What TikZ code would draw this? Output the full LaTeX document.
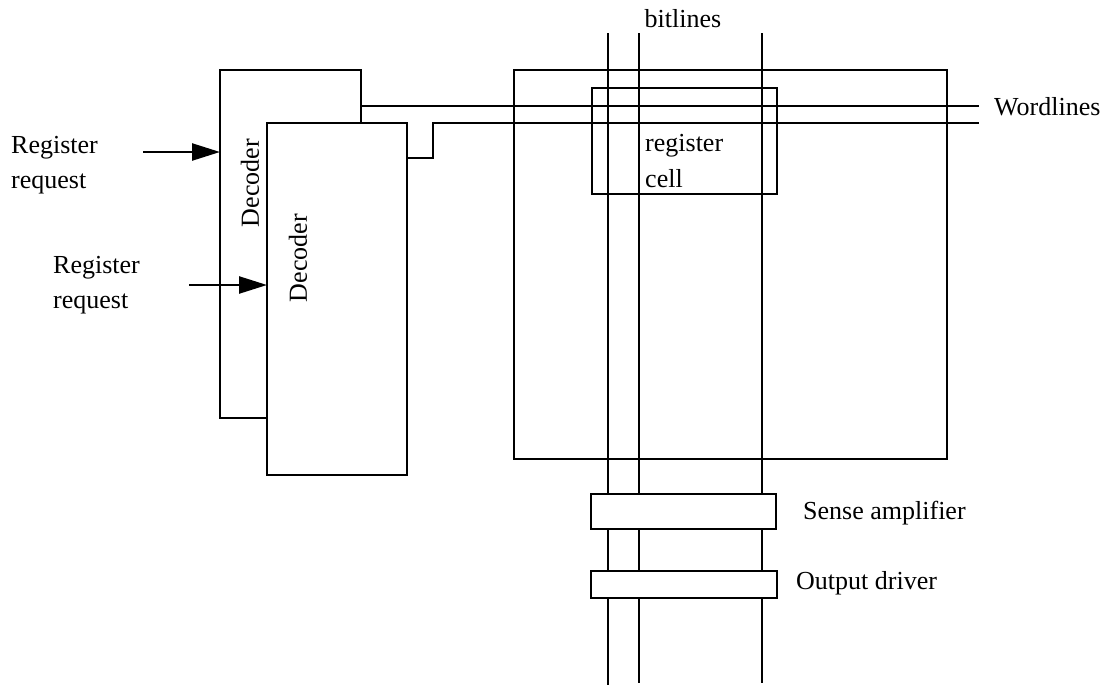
\documentclass[tikz,border=0pt]{standalone}
\usepackage{fontspec}
\setmainfont{Liberation Serif}
\usetikzlibrary{arrows.meta}
\begin{document}
\begin{tikzpicture}[x=1pt,y=-1pt,
  line width=2.4pt,
  box/.style={draw,fill=white,line width=2.4pt,inner sep=0pt,outer sep=0pt,anchor=north west},
  lbl/.style={font=\fontsize{26}{35}\selectfont,inner sep=0pt,align=left},
  arr/.style={-{Triangle[length=28pt,width=17pt]}}]
\useasboundingbox (0,0) rectangle (1109,691);
% decoders
\node[box,minimum width=141pt,minimum height=348pt] (dec1) at (220,70) {};
\coordinate (w1s) at (361,106);
\coordinate (w1e) at (979,106);
\draw (w1s) -- (w1e);
\node[box,minimum width=140pt,minimum height=352pt] (dec2) at (267,123) {};
\node[lbl,rotate=90] (dec1t) at (250,183) {Decoder};
\node[lbl,rotate=90] (dec2t) at (298,258) {Decoder};
\coordinate (w2s) at (407,158);
\coordinate (w2k) at (433,123);
\coordinate (w2e) at (979,123);
\draw (w2s) -| (w2k) -- (w2e);
% memory array
\node[box,fill=none,minimum width=433pt,minimum height=389pt] (mem) at (514,70) {};
\node[box,fill=none,minimum width=185pt,minimum height=106pt] (cell) at (592,88) {};
\node[lbl,anchor=north west] (cellt) at (644,133) {register\\[1pt]cell};
% bitlines
\coordinate (b1t) at (608,33); \coordinate (b1b) at (608,685);
\coordinate (b2t) at (639,33); \coordinate (b2b) at (639,683);
\coordinate (b3t) at (762,33); \coordinate (b3b) at (762,683);
\draw (b1t) -- (b1b);
\draw (b2t) -- (b2b);
\draw (b3t) -- (b3b);
\node[box,minimum width=185pt,minimum height=35pt] (sense) at (591,494) {};
\node[box,minimum width=186pt,minimum height=27pt] (outd) at (591,571) {};
% labels
\node[lbl] (bitl) at (683,19) {bitlines};
\node[lbl,anchor=west] (wordl) at (993,107) {Wordlines};
\node[lbl,anchor=west] (sensel) at (802,513) {Sense amplifier};
\node[lbl,anchor=west] (outl) at (795,583) {Output driver};
% register requests
\node[lbl,anchor=west] (rr1) at (10,165) {Register\\request};
\node[lbl,anchor=west] (rr2) at (52,285) {Register\\request};
\coordinate (a1) at (143,152);
\coordinate (a2) at (189,285);
\draw[arr] (a1) -- (dec1.west |- a1);
\draw[arr] (a2) -- (dec2.west |- a2);
\end{tikzpicture}
\end{document}
